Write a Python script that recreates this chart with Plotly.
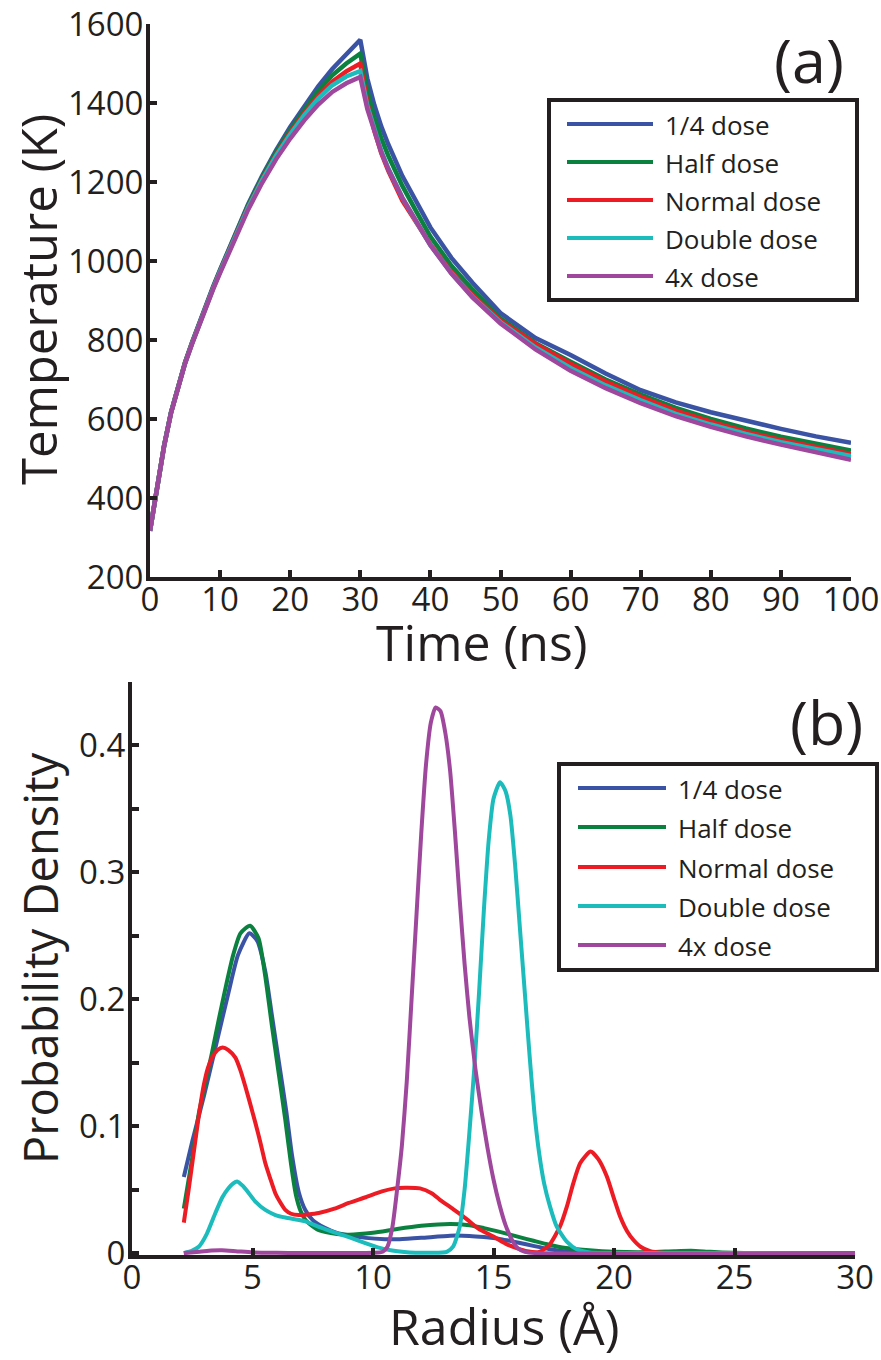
import plotly.graph_objects as go

W, H = 881, 1360

# ---------------- panel (a): temperature vs time ----------------
time_ns = [0, 1, 2, 3, 4, 5, 6, 7, 8, 9, 10, 12, 14, 16, 18, 20, 22, 24, 26, 28, 30,
           31, 32, 33, 34, 36, 38, 40, 43, 46, 50, 55, 60, 65, 70, 75, 80, 85, 90, 95, 100]

temp_quarter = [317, 423, 532, 617, 685, 743, 794, 843, 890, 935, 978, 1063, 1144, 1216, 1281,
                1339, 1393, 1442, 1486, 1524, 1560,
                1462, 1395, 1340, 1295, 1215, 1150, 1085, 1008, 945, 868, 805, 762, 715, 673,
                642, 617, 595, 575, 556, 540]
temp_half = [317, 423, 531, 617, 684, 743, 793, 842, 888, 933, 976, 1060, 1141, 1212, 1276,
             1332, 1384, 1431, 1470, 1500, 1525,
             1430, 1363, 1310, 1266, 1190, 1125, 1062, 988, 928, 855, 792, 745, 700, 662,
             628, 600, 576, 555, 537, 520]
temp_normal = [317, 422, 531, 616, 683, 742, 792, 840, 887, 931, 974, 1057, 1137, 1207, 1270,
               1325, 1374, 1418, 1454, 1480, 1500,
               1400, 1330, 1273, 1228, 1153, 1095, 1042, 972, 914, 850, 790, 740, 695, 656,
               621, 593, 568, 547, 528, 511]
temp_double = [317, 422, 530, 616, 683, 741, 791, 840, 886, 930, 973, 1056, 1135, 1205, 1267,
               1321, 1369, 1411, 1445, 1467, 1481,
               1392, 1330, 1278, 1234, 1160, 1099, 1040, 969, 910, 845, 781, 729, 685, 647,
               613, 586, 562, 541, 523, 506]
temp_4x = [317, 422, 530, 615, 682, 740, 790, 838, 884, 928, 970, 1052, 1130, 1198, 1258,
           1310, 1356, 1396, 1428, 1450, 1466,
           1385, 1325, 1275, 1232, 1160, 1100, 1040, 968, 908, 842, 776, 722, 678, 640,
           607, 580, 556, 535, 515, 497]

# ---------------- panel (b): radius distribution ----------------
r_quarter = [2.15, 2.5, 3.0, 3.5, 4.0, 4.4, 4.87, 5.2, 5.53, 5.8, 6.1, 6.4, 6.64, 6.92, 7.19,
             7.5, 8.0, 8.5, 9.0, 9.7, 10.5, 11.1, 12.0, 13.2, 14.0, 14.6, 15.3, 16.0, 16.7,
             17.3, 18.0, 18.7, 19.5, 22, 26, 30]
p_quarter = [0.060, 0.088, 0.125, 0.165, 0.205, 0.235, 0.252, 0.246, 0.222, 0.188, 0.150,
             0.112, 0.077, 0.048, 0.034, 0.026, 0.020, 0.016, 0.014, 0.012, 0.011, 0.011,
             0.012, 0.0137, 0.0135, 0.0126, 0.011, 0.0084, 0.0055, 0.0032, 0.0013, 0.0004,
             0.0, 0.0, 0.0, 0.0]

r_half = [2.15, 2.5, 2.77, 3.0, 3.32, 3.6, 3.87, 4.2, 4.5, 4.9, 5.25, 5.53, 5.8, 6.1, 6.36,
          6.6, 6.8, 7.0, 7.2, 7.5, 7.75, 8.5, 9.0, 10.0, 11.0, 12.0, 13.2, 14.0, 14.6,
          15.3, 16.0, 16.7, 17.3, 18.0, 18.7, 19.5, 20.5, 21.5, 22.5, 23.2, 24.0, 25.0,
          26.0, 30]
p_half = [0.035, 0.075, 0.110, 0.130, 0.158, 0.184, 0.208, 0.235, 0.252, 0.258, 0.248,
          0.218, 0.180, 0.140, 0.105, 0.070, 0.046, 0.033, 0.026, 0.021, 0.018, 0.015,
          0.0145, 0.016, 0.019, 0.0215, 0.023, 0.022, 0.0197, 0.0165, 0.013, 0.0095,
          0.0066, 0.004, 0.0026, 0.0015, 0.0008, 0.0008, 0.0015, 0.0018, 0.001, 0.0002,
          0.0, 0.0]

r_normal = [2.15, 2.35, 2.56, 2.77, 2.97, 3.15, 3.32, 3.55, 3.76, 4.0, 4.29, 4.5, 4.7, 4.9,
            5.12, 5.33, 5.53, 5.75, 5.95, 6.15, 6.36, 6.6, 6.92, 7.3, 7.75, 8.4, 9.0, 9.7,
            10.37, 10.9, 11.34, 11.95, 12.45, 12.78, 13.3, 13.7, 14.0, 14.4, 15.0, 15.5,
            15.96, 16.4, 16.9, 17.3, 17.76, 18.05, 18.31, 18.6, 19.03, 19.35, 19.7, 20.0,
            20.25, 20.55, 20.8, 21.1, 21.5, 22.0, 22.5, 30]
p_normal = [0.024, 0.050, 0.079, 0.108, 0.1315, 0.146, 0.154, 0.160, 0.162, 0.160, 0.154,
            0.144, 0.1315, 0.118, 0.1026, 0.087, 0.071, 0.058, 0.047, 0.040, 0.034, 0.031,
            0.030, 0.0305, 0.0316, 0.035, 0.0395, 0.044, 0.0486, 0.051, 0.0515, 0.051,
            0.047, 0.042, 0.035, 0.0295, 0.025, 0.019, 0.013, 0.0075, 0.004, 0.0015, 0.001,
            0.006, 0.021, 0.037, 0.055, 0.071, 0.080, 0.074, 0.0605, 0.043, 0.029, 0.017,
            0.0105, 0.005, 0.0015, 0.0002, 0.0, 0.0]

r_double = [2.15, 2.5, 2.77, 3.1, 3.46, 3.75, 4.01, 4.2, 4.36, 4.6, 4.84, 5.1, 5.53, 5.95,
            6.36, 6.8, 7.19, 7.7, 8.3, 9.0, 9.68, 10.2, 10.79, 11.3, 11.76, 12.4, 13.06,
            13.33, 13.6, 13.8, 14.0, 14.2, 14.4, 14.6, 14.8, 15.0, 15.27, 15.5, 15.7, 15.9,
            16.1, 16.3, 16.5, 16.7, 16.9, 17.1, 17.34, 17.62, 18.04, 18.45, 19.0, 19.5, 30]
p_double = [0.0, 0.002, 0.005, 0.015, 0.0316, 0.044, 0.0513, 0.055, 0.0565, 0.053, 0.0474,
            0.041, 0.034, 0.030, 0.028, 0.0265, 0.025, 0.021, 0.017, 0.0125, 0.0079, 0.0045,
            0.002, 0.0008, 0.0003, 0.0003, 0.001, 0.0053, 0.021, 0.050, 0.095, 0.145, 0.205,
            0.270, 0.325, 0.358, 0.371, 0.364, 0.345, 0.305, 0.255, 0.205, 0.155, 0.110,
            0.078, 0.055, 0.037, 0.021, 0.009, 0.003, 0.0005, 0.0, 0.0]

r_4x = [2.15, 2.8, 3.3, 3.73, 4.3, 5.0, 6.0, 7.0, 8.0, 9.0, 10.0, 10.4, 10.6, 10.8, 11.0,
        11.2, 11.4, 11.6, 11.8, 12.0, 12.2, 12.4, 12.6, 12.8, 13.0, 13.2, 13.4, 13.6, 13.8,
        14.0, 14.25, 14.5, 14.75, 15.0, 15.25, 15.5, 15.75, 16.0, 16.3, 16.8, 30]
p_4x = [0.0, 0.001, 0.002, 0.0022, 0.0015, 0.0005, 0.0002, 0.0001, 0.0, 0.0, 0.0002, 0.001,
        0.005, 0.020, 0.050, 0.085, 0.135, 0.200, 0.265, 0.330, 0.385, 0.418, 0.430, 0.427,
        0.410, 0.380, 0.332, 0.278, 0.228, 0.186, 0.145, 0.112, 0.083, 0.058, 0.038, 0.022,
        0.011, 0.004, 0.001, 0.0, 0.0]

labels = ["1/4 dose", "Half dose", "Normal dose", "Double dose", "4x dose"]
colors = ["#3a53a4", "#0b8140", "#ed1c24", "#1cbcbd", "#9e479c"]

temps = [temp_quarter, temp_half, temp_normal, temp_double, temp_4x]
radii = [r_quarter, r_half, r_normal, r_double, r_4x]
dens = [p_quarter, p_half, p_normal, p_double, p_4x]

INK = "#231f20"
FONT = "Open Sans"


def px(x):
    return x / W


def py(y):
    return 1 - y / H


fig = go.Figure()

for name, c, T in zip(labels, colors, temps):
    fig.add_trace(go.Scatter(x=time_ns, y=T, mode="lines", name=name,
                             line=dict(color=c, width=4.5), xaxis="x", yaxis="y",
                             showlegend=False))

for name, c, r, p in zip(labels, colors, radii, dens):
    fig.add_trace(go.Scatter(x=r, y=p, mode="lines", name=name,
                             line=dict(color=c, width=4, shape="spline", smoothing=0.6),
                             xaxis="x2", yaxis="y2", showlegend=False))

axis_common = dict(showline=True, linewidth=4, linecolor=INK, ticks="inside",
                   ticklen=7, tickwidth=4, tickcolor=INK, showgrid=False, zeroline=False,
                   automargin=False,
                   tickfont=dict(family=FONT, size=33, color=INK))
x_common = dict(ticklabelstandoff=-10, **axis_common)
y_common = dict(ticklabelstandoff=-4, **axis_common)

fig.update_layout(
    width=W, height=H, margin=dict(l=0, r=0, t=0, b=0, autoexpand=False),
    paper_bgcolor="white", plot_bgcolor="white",
    xaxis=dict(domain=[px(150), px(851)], range=[0, 100], tickvals=list(range(0, 101, 10)),
               anchor="y", **x_common),
    yaxis=dict(domain=[py(577), py(24)], range=[200, 1600],
               tickvals=list(range(200, 1601, 200)), anchor="x", **y_common),
    xaxis2=dict(domain=[px(132), px(855)], range=[0, 30], tickvals=list(range(0, 31, 5)),
                anchor="y2", **x_common),
    yaxis2=dict(domain=[py(1255), py(682)], range=[-0.0015, 0.45],
                tickvals=[0, 0.05, 0.1, 0.15, 0.2, 0.25, 0.3, 0.35, 0.4, 0.45],
                ticktext=["0", "", "0.1", "", "0.2", "", "0.3", "", "0.4", ""],
                anchor="x2", **y_common),
)

ann = []
shapes = []

# axis titles
ann.append(dict(text="Temperature (K)", x=px(38), y=py(300), textangle=-90,
                font=dict(family=FONT, size=49, color=INK)))
ann.append(dict(text="Time (ns)", x=px(482), y=py(642),
                font=dict(family=FONT, size=50, color=INK)))
ann.append(dict(text="Probability Density", x=px(40), y=py(958), textangle=-90,
                font=dict(family=FONT, size=47, color=INK)))
ann.append(dict(text="Radius (Å)", x=px(504), y=py(1326),
                font=dict(family=FONT, size=50, color=INK)))

# panel tags
ann.append(dict(text="(a)", x=px(809), y=py(60), font=dict(family=FONT, size=61, color=INK)))
ann.append(dict(text="(b)", x=px(826), y=py(721), font=dict(family=FONT, size=61, color=INK)))


def legend_box(x0, x1, y0, y1, lx0, lx1, tx, rows):
    shapes.append(dict(type="rect", xref="paper", yref="paper",
                       x0=px(x0), x1=px(x1), y0=py(y1), y1=py(y0),
                       line=dict(color=INK, width=4), fillcolor="white", layer="above"))
    for name, c, ry in zip(labels, colors, rows):
        shapes.append(dict(type="line", xref="paper", yref="paper",
                           x0=px(lx0), x1=px(lx1), y0=py(ry), y1=py(ry),
                           line=dict(color=c, width=4), layer="above"))
        ann.append(dict(text=name, x=px(tx), y=py(ry + 1), xanchor="left",
                        font=dict(family=FONT, size=26, color=INK)))


legend_box(549, 857, 100, 300, 567, 653, 663, [124, 162, 200, 238, 276])
legend_box(559, 877, 764, 970, 578, 666, 676, [788, 827, 867, 906, 945])

for a in ann:
    a.setdefault("xref", "paper")
    a.setdefault("yref", "paper")
    a.setdefault("showarrow", False)
    a.setdefault("xanchor", "center")
    a.setdefault("yanchor", "middle")

fig.update_layout(annotations=ann, shapes=shapes)

fig.write_html("out.html")
